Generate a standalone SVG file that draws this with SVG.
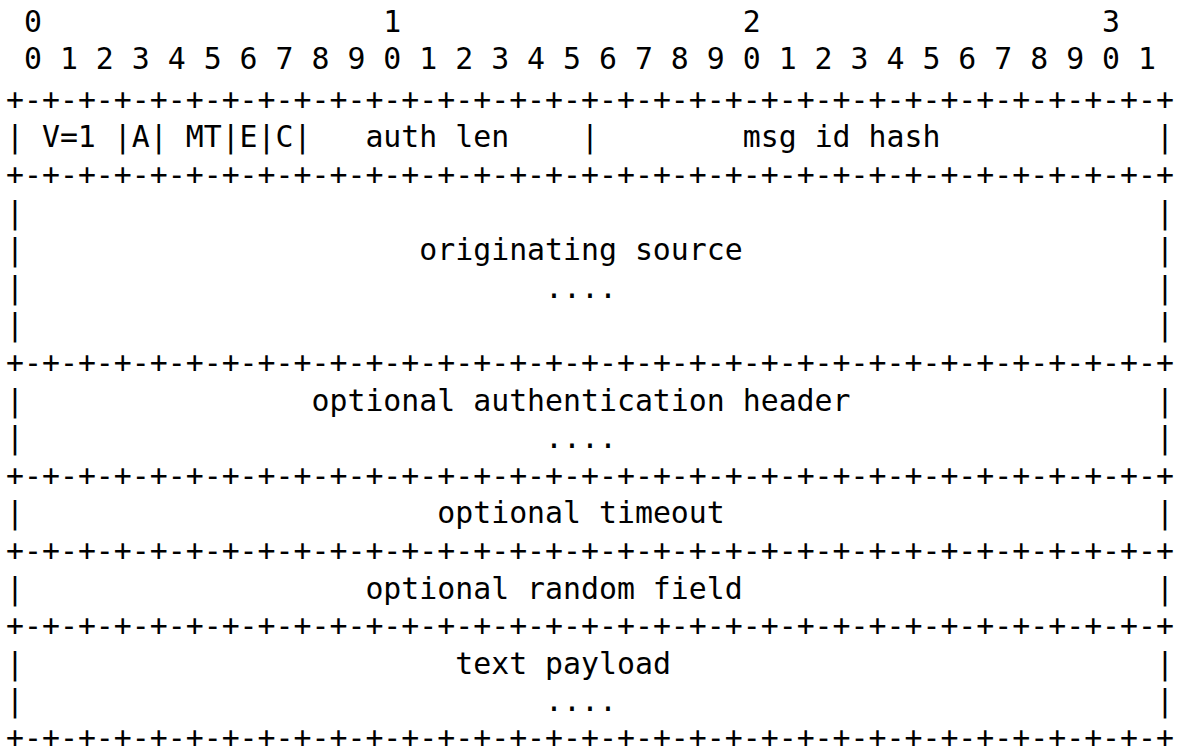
<svg xmlns="http://www.w3.org/2000/svg" width="1180" height="748" viewBox="0 0 1180 748">
<style>
text{font-family:"DejaVu Sans Mono","Liberation Mono",monospace;font-size:29.85px;fill:#000;white-space:pre}
</style>
<rect width="1180" height="748" fill="#fff"/>
<g id="ruler">
<text x="6" y="31.5" xml:space="preserve" textLength="1168" lengthAdjust="spacing"> 0                   1                   2                   3   </text>
<text x="6" y="69" xml:space="preserve" textLength="1168" lengthAdjust="spacing"> 0 1 2 3 4 5 6 7 8 9 0 1 2 3 4 5 6 7 8 9 0 1 2 3 4 5 6 7 8 9 0 1 </text>
</g>
<g id="connectors">
<text x="6" y="109.7" textLength="1168" lengthAdjust="spacing">+-+-+-+-+-+-+-+-+-+-+-+-+-+-+-+-+-+-+-+-+-+-+-+-+-+-+-+-+-+-+-+-+</text>
<text x="6" y="184.9" textLength="1168" lengthAdjust="spacing">+-+-+-+-+-+-+-+-+-+-+-+-+-+-+-+-+-+-+-+-+-+-+-+-+-+-+-+-+-+-+-+-+</text>
<text x="6" y="372.9" textLength="1168" lengthAdjust="spacing">+-+-+-+-+-+-+-+-+-+-+-+-+-+-+-+-+-+-+-+-+-+-+-+-+-+-+-+-+-+-+-+-+</text>
<text x="6" y="485.7" textLength="1168" lengthAdjust="spacing">+-+-+-+-+-+-+-+-+-+-+-+-+-+-+-+-+-+-+-+-+-+-+-+-+-+-+-+-+-+-+-+-+</text>
<text x="6" y="560.9" textLength="1168" lengthAdjust="spacing">+-+-+-+-+-+-+-+-+-+-+-+-+-+-+-+-+-+-+-+-+-+-+-+-+-+-+-+-+-+-+-+-+</text>
<text x="6" y="636.1" textLength="1168" lengthAdjust="spacing">+-+-+-+-+-+-+-+-+-+-+-+-+-+-+-+-+-+-+-+-+-+-+-+-+-+-+-+-+-+-+-+-+</text>
<text x="6" y="748" textLength="1168" lengthAdjust="spacing">+-+-+-+-+-+-+-+-+-+-+-+-+-+-+-+-+-+-+-+-+-+-+-+-+-+-+-+-+-+-+-+-+</text>
<text x="6" y="147.3">|</text>
<text x="113.82" y="147.3">|</text>
<text x="149.76" y="147.3">|</text>
<text x="221.64" y="147.3">|</text>
<text x="257.58" y="147.3">|</text>
<text x="293.52" y="147.3">|</text>
<text x="581.04" y="147.3">|</text>
<text x="1156.08" y="147.3">|</text>
<text x="6" y="222.5">|</text><text x="1156.08" y="222.5">|</text>
<text x="6" y="260.1">|</text><text x="1156.08" y="260.1">|</text>
<text x="6" y="297.7">|</text><text x="1156.08" y="297.7">|</text>
<text x="6" y="335.3">|</text><text x="1156.08" y="335.3">|</text>
<text x="6" y="410.5">|</text><text x="1156.08" y="410.5">|</text>
<text x="6" y="448.1">|</text><text x="1156.08" y="448.1">|</text>
<text x="6" y="523.3">|</text><text x="1156.08" y="523.3">|</text>
<text x="6" y="598.5">|</text><text x="1156.08" y="598.5">|</text>
<text x="6" y="673.7">|</text><text x="1156.08" y="673.7">|</text>
<text x="6" y="711.3">|</text><text x="1156.08" y="711.3">|</text>
</g>
<g id="field-version"><text x="41.94" y="147.3">V=1</text></g>
<g id="field-a"><text x="131.79" y="147.3">A</text></g>
<g id="field-mt"><text x="185.7" y="147.3">MT</text></g>
<g id="field-e"><text x="239.61" y="147.3">E</text></g>
<g id="field-c"><text x="275.55" y="147.3">C</text></g>
<g id="field-auth-len"><text x="365.4" y="147.3" xml:space="preserve">auth len</text></g>
<g id="field-msg-id-hash"><text x="742.77" y="147.3" xml:space="preserve">msg id hash</text></g>
<g id="field-originating-source">
<text x="419.31" y="260.1" xml:space="preserve">originating source</text>
<text x="545.1" y="297.7">....</text>
</g>
<g id="field-authentication-header">
<text x="311.49" y="410.5" xml:space="preserve">optional authentication header</text>
<text x="545.1" y="448.1">....</text>
</g>
<g id="field-timeout"><text x="437.28" y="523.3" xml:space="preserve">optional timeout</text></g>
<g id="field-random"><text x="365.4" y="598.5" xml:space="preserve">optional random field</text></g>
<g id="field-payload">
<text x="455.25" y="673.7" xml:space="preserve">text payload</text>
<text x="545.1" y="711.3">....</text>
</g>
</svg>
